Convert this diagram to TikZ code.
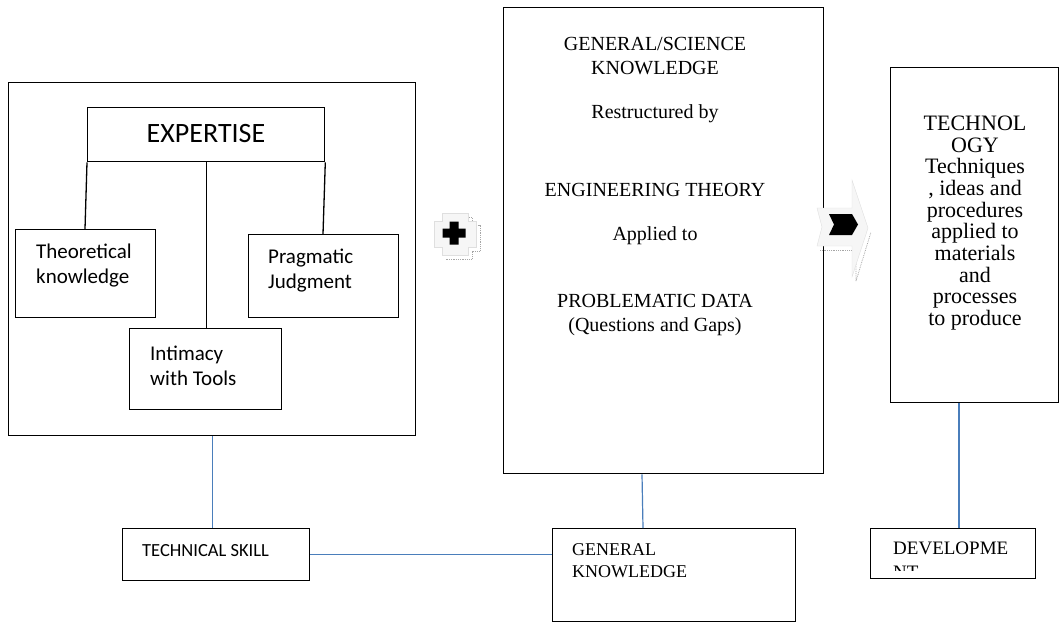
\documentclass[tikz,border=0pt]{standalone}
\usepackage{fontspec}
\setmainfont{Liberation Serif}
\newfontfamily\calfont{Carlito}
\definecolor{linkblue}{HTML}{4A7EBB}
\begin{document}
\begin{tikzpicture}[x=1pt,y=-1pt,
  box/.style={draw=black,line width=1.3pt,fill=white,inner sep=0pt,anchor=north west},
  link/.style={draw=black,line width=1.3pt},
  bluelink/.style={draw=linkblue,line width=1.2pt},
  sanstxt/.style={font=\calfont\fontsize{21}{25}\selectfont,align=left,inner sep=0pt,anchor=west},
  serif/.style={font=\fontsize{20}{24}\selectfont,align=center,inner sep=0pt},
  serifl/.style={font=\fontsize{18}{22}\selectfont,align=left,inner sep=0pt,anchor=west},
  lightshape/.style={fill=gray!7,draw=gray!25,line width=0.4pt},
  shadowline/.style={draw=gray!70,densely dotted,line width=0.8pt}]
\useasboundingbox (0,0) rectangle (1062,622);

% ---------- left group ----------
\node[box,minimum width=407pt,minimum height=353pt] (big) at (8,82) {};
\node[box,minimum width=237pt,minimum height=54pt] (exp) at (87,107) {};
\node[box,minimum width=140pt,minimum height=88pt] (theo) at (15,229) {};
\node[box,minimum width=150pt,minimum height=83pt] (prag) at (248,234) {};
\node[box,minimum width=152pt,minimum height=81pt] (intim) at (129,328) {};

\node[font=\calfont\fontsize{28}{32}\selectfont,inner sep=0pt] (expt) at (206,134) {EXPERTISE};
\node[sanstxt] (theot) at (36,266) {Theoretical\\knowledge};
\node[sanstxt] (pragt) at (268,271) {Pragmatic\\Judgment};
\node[sanstxt] (intimt) at (150,366) {Intimacy\\with Tools};

\draw[link] (exp.south west) -- ([xshift=70pt]theo.north west);
\draw[link] (exp.south) -- (exp.south |- intim.north);
\draw[link] (exp.south east) -- ([xshift=75pt]prag.north west);

% ---------- plus sign ----------
\path[shadowline] (446,217) -- (472,217) -- (472,225) -- (480,225) -- (480,251) -- (472,251) -- (472,259) -- (446,259);
\path[lightshape] (442,213) -- (468,213) -- (468,221) -- (476,221) -- (476,247) -- (468,247) -- (468,255) -- (442,255) -- (442,247) -- (434,247) -- (434,221) -- (442,221) -- cycle;
\fill[black] (449.5,221.5) -- (458.5,221.5) -- (458.5,228.5) -- (465.5,228.5) -- (465.5,237.5) -- (458.5,237.5) -- (458.5,244.5) -- (449.5,244.5) -- (449.5,237.5) -- (442.5,237.5) -- (442.5,228.5) -- (449.5,228.5) -- cycle;

% ---------- centre box ----------
\node[box,minimum width=320pt,minimum height=466pt] (cen) at (503,7) {};
\node[serif] (gs) at (655,56) {GENERAL/SCIENCE\\KNOWLEDGE};
\node[serif] (rb) at (655,114) {Restructured by};
\node[serif] (et) at (655,190) {ENGINEERING THEORY};
\node[serif] (ap) at (655,236) {Applied to};
\node[serif] (pd) at (655,315) {PROBLEMATIC DATA\\(Questions and Gaps)};

% ---------- arrow ----------
\path[shadowline] (856,246) -- (856,281) -- (871,232);
\path[shadowline] (820,250) -- (856,250);
\path[lightshape] (817,208) -- (852,208) -- (852,180) -- (868,228) -- (852,277) -- (852,246) -- (817,246) -- (822,227) -- cycle;
\fill[black] (829,214) -- (852,214) -- (858,224.5) -- (852,235) -- (829,235) -- (834,224.5) -- cycle;

% ---------- right box ----------
\node[box,minimum width=168pt,minimum height=335pt] (tech) at (890,67) {};
\node[font=\fontsize{22}{21.7}\selectfont,align=center,inner sep=0pt] (techt) at (975,223)
  {TECHNOL\\OGY\\Techniques\\, ideas and\\procedures\\applied to\\materials\\and\\processes\\to produce};

% ---------- bottom row ----------
\node[box,minimum width=187pt,minimum height=52pt] (tsk) at (122,528) {};
\node[font=\calfont\fontsize{18.5}{22}\selectfont,inner sep=0pt,anchor=west] (tskt) at (142,551) {TECHNICAL SKILL};

\node[box,minimum width=243pt,minimum height=93pt] (gk) at (552,528) {};
\node[serifl] (gkt) at (572,561) {GENERAL\\KNOWLEDGE};

\node[box,minimum width=165pt,minimum height=50pt] (dev) at (870,528) {};
\node[font=\fontsize{19}{22}\selectfont,inner sep=0pt,anchor=west] (devt) at (893,548) {DEVELOPME};
\begin{scope}
  \clip (872,530) rectangle (1033,570);
  \node[font=\fontsize{19}{22}\selectfont,inner sep=0pt,anchor=north west] (devnt) at (893,566) {NT};
\end{scope}

% ---------- blue connectors ----------
\draw[bluelink] (big.south) -- (big.south |- tsk.north);
\draw[bluelink] (tsk.east) -- (tsk.east -| gk.west);
\draw[bluelink] ([xshift=139pt]cen.south west) -- ([xshift=91pt]gk.north west);
\draw[bluelink] ([xshift=69pt]tech.south west) -- ([xshift=89pt]dev.north west);
\end{tikzpicture}
\end{document}
